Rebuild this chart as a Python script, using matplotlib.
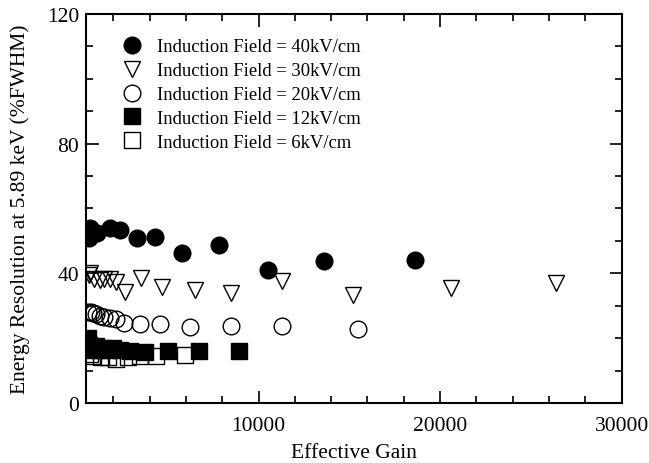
import matplotlib.pyplot as plt
from matplotlib.ticker import MultipleLocator

plt.rcParams['font.family'] = ['Liberation Serif', 'DejaVu Serif']

# === DATA ===
gain_40 = [650, 700, 800, 1100, 1800, 2400, 3300, 4300, 5800, 7800, 10500, 13600, 18600]
res_40 = [51, 54, 53, 52.5, 54, 53.5, 51, 51.2, 46.4, 48.6, 41, 43.8, 44]

gain_30 = [650, 700, 950, 1250, 1500, 1800, 2150, 2650, 3550, 4700, 6500, 8500, 11300, 15200, 20600, 26400]
res_30 = [39.5, 40, 38.2, 37.8, 38.2, 38.2, 37.2, 34.1, 38.7, 35.9, 34.9, 33.8, 37.6, 33.3, 35.4, 36.9]

gain_20 = [600, 750, 900, 1050, 1250, 1500, 1800, 2150, 2600, 3450, 4550, 6200, 8500, 11300, 15500]
res_20 = [28, 28, 27.8, 27.4, 26.9, 26.4, 26.1, 25.8, 24.8, 24.3, 24.3, 23.3, 23.9, 23.6, 22.8]

gain_12 = [600, 650, 750, 900, 1050, 1250, 1450, 1700, 2000, 2400, 2950, 3750, 5000, 6700, 8900]
res_12 = [20, 18, 17, 16.5, 17.5, 16.5, 17, 16.5, 17, 16.5, 16.1, 15.6, 16.1, 16.1, 15.9]

gain_6 = [700, 900, 1300, 1700, 2150, 2800, 3500, 4350, 5950]
res_6 = [15, 14.5, 14.2, 14.1, 13.5, 14.1, 14.6, 14.6, 14.8]

fig = plt.figure(figsize=(6.49, 4.64), dpi=100)
ax = fig.add_axes([0.1325, 0.1293, 0.8255, 0.8384])

ms = 12
h6, = ax.plot(gain_6, res_6, ls='none', marker='s', ms=11.5, mfc='none', mec='black', mew=1.0)
h12, = ax.plot(gain_12, res_12, ls='none', marker='s', ms=11.5, mfc='black', mec='black')
h20, = ax.plot(gain_20, res_20, ls='none', marker='o', ms=ms, mfc='none', mec='black', mew=1.0)
h30, = ax.plot(gain_30, res_30, ls='none', marker='v', ms=ms, mfc='none', mec='black', mew=1.0)
h40, = ax.plot(gain_40, res_40, ls='none', marker='o', ms=ms, mfc='black', mec='black')

ax.legend([h40, h30, h20, h12, h6],
          ['Induction Field = 40kV/cm', 'Induction Field = 30kV/cm',
           'Induction Field = 20kV/cm', 'Induction Field = 12kV/cm',
           'Induction Field = 6kV/cm'],
          loc='upper left', bbox_to_anchor=(0.037, 0.957), frameon=False,
          fontsize=13.4, handletextpad=0.35, labelspacing=0.37, borderaxespad=0)

ax.set_xlim(500, 30000)
ax.set_ylim(0, 120)
ax.xaxis.set_major_locator(MultipleLocator(10000))
ax.xaxis.set_minor_locator(MultipleLocator(2000))
ax.yaxis.set_major_locator(MultipleLocator(40))
ax.yaxis.set_minor_locator(MultipleLocator(10))
ax.tick_params(which='both', direction='in', top=True, right=True, labelsize=15.5, width=1.2)
ax.tick_params(which='major', length=9)
ax.tick_params(which='minor', length=5)
ax.tick_params(axis='x', which='major', pad=9)
ax.tick_params(axis='y', which='major', pad=5)
for s in ax.spines.values():
    s.set_linewidth(1.5)

ax.set_xlabel('Effective Gain', fontsize=15.5, labelpad=6)
ax.set_ylabel('Energy Resolution at 5.89 keV (%FWHM)', fontsize=15.5, labelpad=12)

fig.savefig('out.png', dpi=100)
